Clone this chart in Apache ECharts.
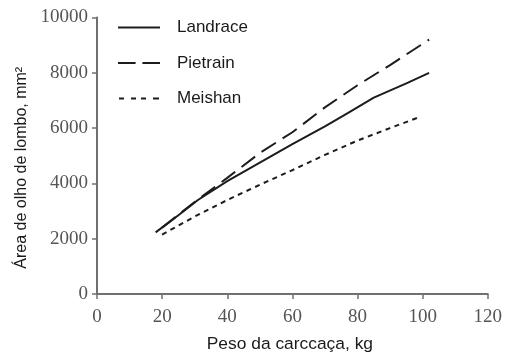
<!DOCTYPE html>
<html>
<head>
<meta charset="utf-8">
<script src="https://cdn.jsdelivr.net/npm/echarts@6/dist/echarts.min.js"></script>
<style>
  html, body { margin: 0; padding: 0; background: #fff; }
  #chart { width: 505px; height: 358px; }
</style>
</head>
<body>
<div id="chart"></div>
<script>
// Carcass weight (kg) and loin eye area (mm²) for each breed
const landraceX = [18, 25, 31, 40, 50, 60, 70, 77, 85, 95, 102];
const landraceY = [2230, 2850, 3400, 4080, 4750, 5420, 6060, 6540, 7100, 7620, 8000];

const pietrainX = [20, 30, 40, 50, 60, 70, 80, 90, 102];
const pietrainY = [2400, 3330, 4200, 5100, 5850, 6750, 7550, 8280, 9200];

const meishanX = [20, 30, 40, 50, 60, 70, 80, 90, 99];
const meishanY = [2150, 2800, 3400, 3950, 4480, 5030, 5550, 6000, 6400];

const seriesNames = ['Landrace', 'Pietrain', 'Meishan'];

const xTicks = { min: 0, max: 120, step: 20 };
const yTicks = { min: 0, max: 10000, step: 2000 };

function pairs(xs, ys) {
  return xs.map((x, i) => [x, ys[i]]);
}

const lineColor = '#1c1c1c';
const axisColor = '#707070';

// Legend keys drawn as paths: solid, long dashes, short dashes
const legendIcons = [
  'path://M0,0 H42 V2 H0 Z',
  'path://M0,0 H18 V2 H0 Z M25,0 H43 V2 H25 Z',
  'path://M0,0 H5 V2 H0 Z M12,0 H17 V2 H12 Z M22,0 H27 V2 H22 Z M34,0 H40 V2 H34 Z'
];

function lineSeries(name, xs, ys, dash) {
  return {
    name: name,
    type: 'line',
    data: pairs(xs, ys),
    symbol: 'none',
    smooth: false,
    lineStyle: { color: lineColor, width: 2, type: dash },
    itemStyle: { color: lineColor }
  };
}

const chart = echarts.init(document.getElementById('chart'));
chart.setOption({
  animation: false,
  backgroundColor: '#ffffff',
  grid: { left: 97, right: 13, top: 17.5, bottom: 64, containLabel: false },
  legend: {
    orient: 'vertical',
    left: 113,
    top: 14,
    itemWidth: 42,
    itemHeight: 2,
    itemGap: 18.5,
    data: seriesNames.map((n, i) => ({ name: n, icon: legendIcons[i], itemStyle: { color: lineColor, borderWidth: 0 } })),
    textStyle: {
      fontFamily: 'Liberation Sans',
      fontSize: 17,
      color: '#1a1a1a',
      padding: [0, 0, 0, 12]
    }
  },
  xAxis: {
    type: 'value',
    min: xTicks.min,
    max: xTicks.max,
    interval: xTicks.step,
    name: 'Peso da carccaça, kg',
    nameLocation: 'middle',
    nameGap: 42,
    nameTextStyle: {
      fontFamily: 'Liberation Sans',
      fontSize: 17.4,
      color: '#1a1a1a',
      padding: [0, 5, 0, 0]
    },
    axisLine: { show: true, lineStyle: { color: axisColor, width: 2 } },
    axisTick: { show: true, inside: false, length: 5, lineStyle: { color: axisColor, width: 1.5 } },
    axisLabel: {
      fontFamily: 'Liberation Serif',
      fontSize: 19,
      color: '#555555',
      margin: 14
    },
    splitLine: { show: false }
  },
  yAxis: {
    type: 'value',
    min: yTicks.min,
    max: yTicks.max,
    interval: yTicks.step,
    name: 'Área de olho de lombo, mm²',
    nameLocation: 'middle',
    nameGap: 64,
    nameTextStyle: {
      fontFamily: 'Liberation Sans',
      fontSize: 16,
      color: '#1a1a1a',
      padding: [0, 24, 0, 0]
    },
    axisLine: { show: true, lineStyle: { color: axisColor, width: 2 } },
    axisTick: { show: true, inside: false, length: 5, lineStyle: { color: axisColor, width: 1.5 } },
    axisLabel: {
      fontFamily: 'Liberation Serif',
      fontSize: 19,
      color: '#555555',
      margin: 9,
      formatter: (v) => String(v)
    },
    splitLine: { show: false }
  },
  series: [
    lineSeries(seriesNames[0], landraceX, landraceY, 'solid'),
    lineSeries(seriesNames[1], pietrainX, pietrainY, [17, 8]),
    lineSeries(seriesNames[2], meishanX, meishanY, [5, 4.5])
  ]
});
</script>
</body>
</html>
